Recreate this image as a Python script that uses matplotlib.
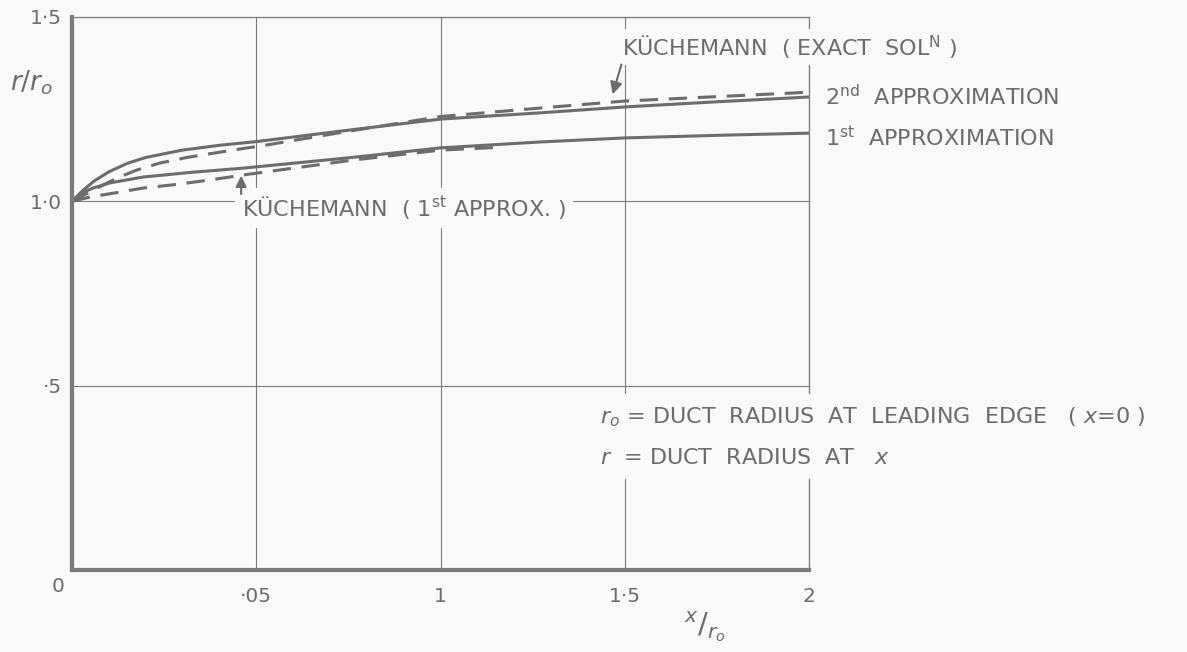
import matplotlib
matplotlib.use("Agg")
import matplotlib.pyplot as plt

# ---------------------------------------------------------------------------
# Data (x/r0 against r/r0)
# ---------------------------------------------------------------------------

x_2nd = [0, 0.003, 0.006, 0.01, 0.015, 0.02, 0.03, 0.04, 0.05, 0.075, 0.1, 0.127, 0.15, 0.175, 0.2]
y_2nd = [1.0, 1.030, 1.055, 1.080, 1.103, 1.119, 1.139, 1.152, 1.162, 1.193, 1.223, 1.240, 1.256, 1.270, 1.283]

x_kexact = [0, 0.0068, 0.0122, 0.0176, 0.0239, 0.0312, 0.0374, 0.0437, 0.0529, 0.075, 0.1, 0.127, 0.15, 0.175, 0.2]
y_kexact = [1.0, 1.036, 1.063, 1.085, 1.104, 1.119, 1.129, 1.139, 1.153, 1.190, 1.230, 1.253, 1.272, 1.284, 1.296]

x_1st = [0, 0.0025, 0.0057, 0.0103, 0.0193, 0.0328, 0.0464, 0.075, 0.1, 0.127, 0.15, 0.175, 0.2]
y_1st = [1.0, 1.022, 1.036, 1.050, 1.066, 1.079, 1.090, 1.118, 1.145, 1.161, 1.172, 1.179, 1.185]

x_k1st = [0, 0.005, 0.013, 0.0193, 0.0285, 0.0374, 0.0483, 0.0763, 0.1, 0.117]
y_k1st = [1.0, 1.012, 1.025, 1.036, 1.046, 1.058, 1.074, 1.112, 1.139, 1.147]

x_ticks = [0.05, 0.1, 0.15, 0.2]
x_tick_labels = ["·05", "1", "1·5", "2"]
y_ticks = [0.5, 1.0, 1.5]
y_tick_labels = ["·5", "1·0", "1·5"]

# ---------------------------------------------------------------------------
# Style
# ---------------------------------------------------------------------------

BG = "#f9f9f9"
INK = "#6c6c6c"
LINE = "#7a7a7a"

plt.rcParams["font.family"] = ["DejaVu Sans"]
plt.rcParams["mathtext.fontset"] = "dejavusans"

W, H = 1187, 652
fig = plt.figure(figsize=(W / 100, H / 100), dpi=100)
fig.set_facecolor(BG)
ax = fig.add_axes([72 / W, 1 - 570 / H, (809 - 72) / W, (570 - 17) / H])
ax.set_facecolor(BG)

ax.set_xlim(0, 0.2)
ax.set_ylim(0, 1.5)

for side in ("left", "bottom"):
    ax.spines[side].set_linewidth(3.0)
    ax.spines[side].set_color(LINE)
for side in ("top", "right"):
    ax.spines[side].set_linewidth(0.9)
    ax.spines[side].set_color(LINE)

ax.set_xticks(x_ticks)
ax.set_xticklabels(x_tick_labels)
ax.set_yticks(y_ticks)
ax.set_yticklabels(y_tick_labels)
ax.tick_params(length=0, labelsize=14.5, colors=INK)
ax.tick_params(axis="x", pad=12)
ax.tick_params(axis="y", pad=7)
ax.grid(True, color=LINE, linewidth=0.8)
ax.set_axisbelow(True)

# curves
lw = 2.2
ax.plot(x_2nd, y_2nd, color=INK, lw=lw, solid_capstyle="butt")
ax.plot(x_1st, y_1st, color=INK, lw=lw, solid_capstyle="butt")
ax.plot(x_kexact, y_kexact, color=INK, lw=lw, dashes=(6, 3.5))
ax.plot(x_k1st, y_k1st, color=INK, lw=lw, dashes=(6, 3.5))

FS = 16

# labels on the curves
box = dict(facecolor=BG, edgecolor="none", pad=3)
ax.text(0.1493, 1.418, "KÜCHEMANN  ( EXACT  SOL$^{\\mathregular{N}}$ )", fontsize=FS,
        color=INK, va="center", ha="left", bbox=box, clip_on=False)
ax.annotate("", xy=(0.1465, 1.283), xytext=(0.1493, 1.378),
            arrowprops=dict(arrowstyle="-|>", color=INK, lw=1.5, mutation_scale=18))

ax.text(0.2043, 1.283, "2$^{\\mathregular{nd}}$  APPROXIMATION", fontsize=FS,
        color=INK, va="center", ha="left", clip_on=False)
ax.text(0.2043, 1.174, "1$^{\\mathregular{st}}$  APPROXIMATION", fontsize=FS,
        color=INK, va="center", ha="left", clip_on=False)

ax.text(0.0461, 0.982, "KÜCHEMANN  ( 1$^{\\mathregular{st}}$ APPROX. )", fontsize=FS,
        color=INK, va="center", ha="left", bbox=dict(facecolor=BG, edgecolor="none", pad=5))
ax.annotate("", xy=(0.0459, 1.077), xytext=(0.0459, 1.012),
            arrowprops=dict(arrowstyle="-|>", color=INK, lw=1.5, mutation_scale=16))

# definitions
note_box = dict(facecolor=BG, edgecolor="none", pad=8)
ax.text(0.1433, 0.415, "$r_o$ = DUCT  RADIUS  AT  LEADING  EDGE   ( $x$=0 )", fontsize=FS,
        color=INK, va="center", ha="left", bbox=note_box, clip_on=False)
ax.text(0.1433, 0.304, "$r$  = DUCT  RADIUS  AT   $x$", fontsize=FS,
        color=INK, va="center", ha="left", bbox=note_box, clip_on=False)

# origin and axis titles
ax.annotate("0", xy=(0, 0), xytext=(-14, -17), textcoords="offset pixels",
            fontsize=14.5, color=INK, ha="center", va="center", annotation_clip=False)
fig.text(32 / W, 1 - 83 / H, "$r/r_o$", fontsize=19, color=INK, ha="center", va="center")
fig.text(705 / W, 1 - 627 / H, "$^x/_{r_o}$", fontsize=21, color=INK, ha="center", va="center")

fig.savefig("out.png", dpi=100, facecolor=fig.get_facecolor())
